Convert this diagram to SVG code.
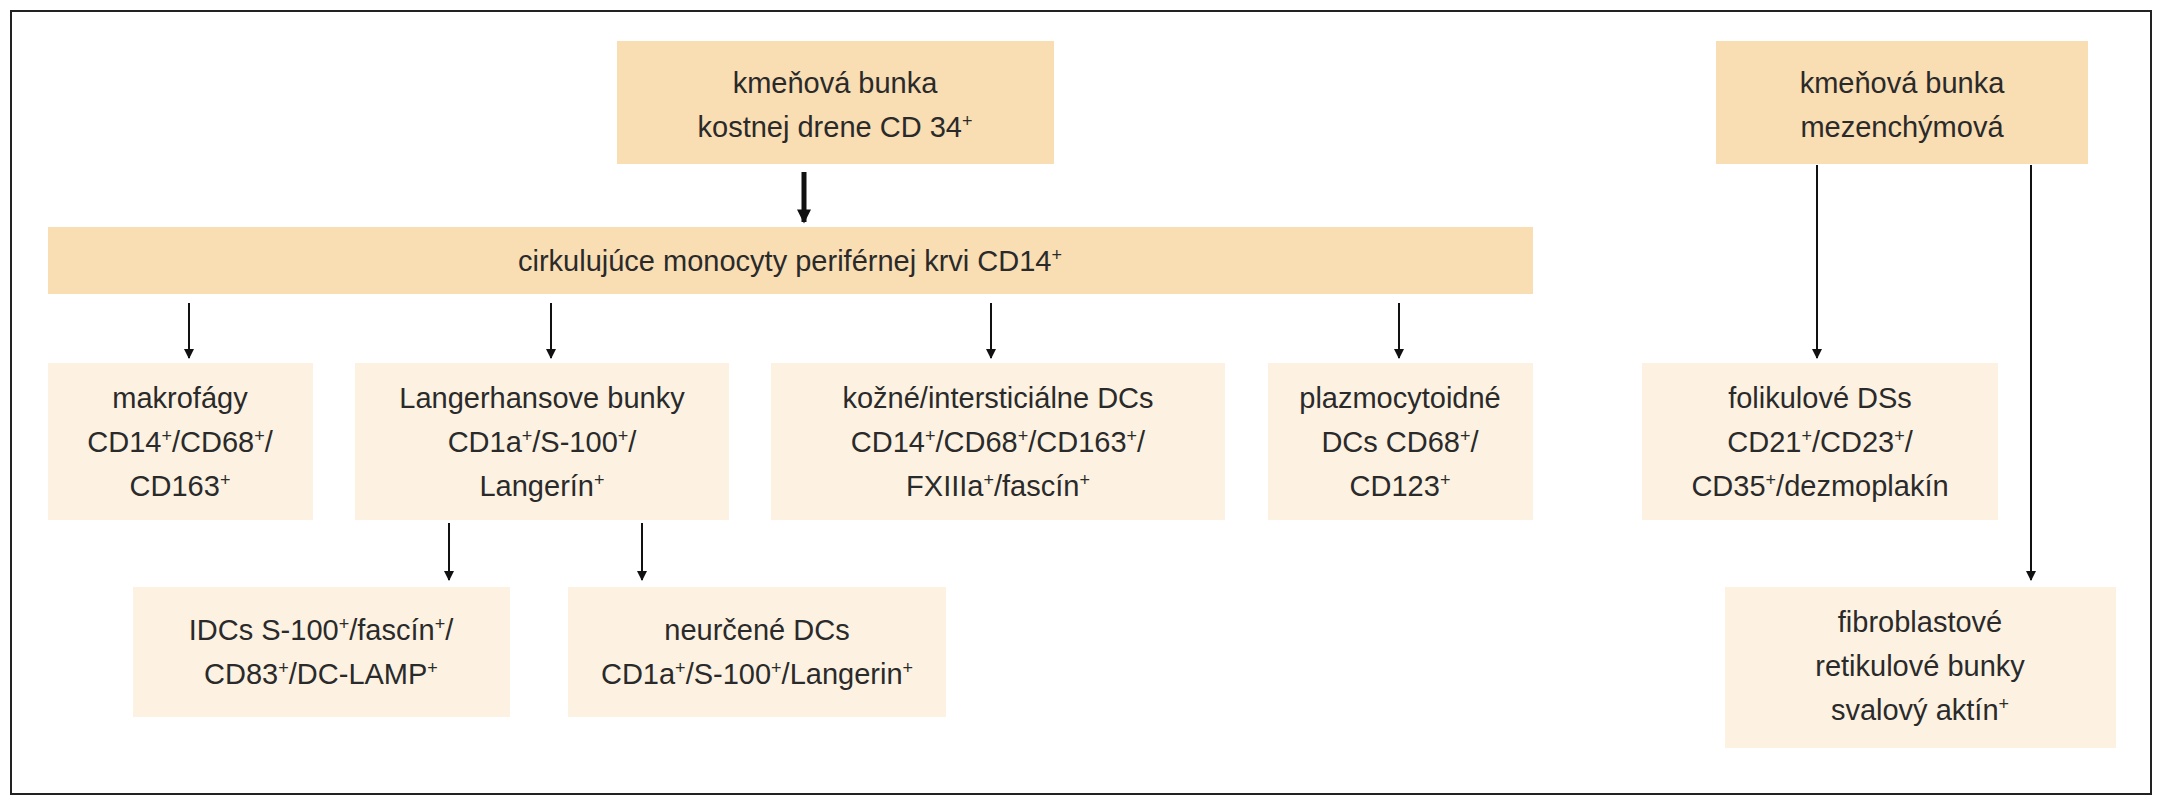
<svg xmlns="http://www.w3.org/2000/svg" width="2165" height="800" viewBox="0 0 2165 800">
<style>
.t{font-family:"Liberation Sans",Arial,sans-serif;font-size:29px;fill:#2a2a2a;text-anchor:middle}
.s{font-size:18px;baseline-shift:super}
.a{fill:#f9ddb3}.b{fill:#fdf2e2}
.c{stroke:#111;stroke-width:2;fill:none}
</style>
<defs>
<marker id="m" viewBox="0 0 10 10" refX="9" refY="5" markerWidth="10" markerHeight="18" markerUnits="userSpaceOnUse" orient="auto"><path d="M0,0L10,5L0,10z" fill="#111"/></marker>
<marker id="mb" viewBox="0 0 10 10" refX="9" refY="5" markerWidth="16" markerHeight="14" markerUnits="userSpaceOnUse" orient="auto"><path d="M0,0L10,5L0,10z" fill="#111"/></marker>
</defs>
<rect width="2165" height="800" fill="#fff"/>
<rect x="11" y="11" width="2140" height="783" fill="none" stroke="#222" stroke-width="2"/>
<g id="n1"><rect class="a" x="617" y="41" width="437" height="123"/><text class="t" x="835" y="93">kmeňová bunka</text><text class="t" x="835" y="137">kostnej drene CD 34<tspan class="s">+</tspan></text></g>
<g id="n2"><rect class="a" x="1716" y="41" width="372" height="123"/><text class="t" x="1902" y="93">kmeňová bunka</text><text class="t" x="1902" y="137">mezenchýmová</text></g>
<g id="n3"><rect class="a" x="48" y="227" width="1485" height="67"/><text class="t" x="790" y="271">cirkulujúce monocyty periférnej krvi CD14<tspan class="s">+</tspan></text></g>
<g id="n4"><rect class="b" x="48" y="363" width="265" height="157"/><text class="t" x="180" y="408">makrofágy</text><text class="t" x="180" y="452">CD14<tspan class="s">+</tspan>/CD68<tspan class="s">+</tspan>/</text><text class="t" x="180" y="496">CD163<tspan class="s">+</tspan></text></g>
<g id="n5"><rect class="b" x="355" y="363" width="374" height="157"/><text class="t" x="542" y="408">Langerhansove bunky</text><text class="t" x="542" y="452">CD1a<tspan class="s">+</tspan>/S-100<tspan class="s">+</tspan>/</text><text class="t" x="542" y="496">Langerín<tspan class="s">+</tspan></text></g>
<g id="n6"><rect class="b" x="771" y="363" width="454" height="157"/><text class="t" x="998" y="408">kožné/intersticiálne DCs</text><text class="t" x="998" y="452">CD14<tspan class="s">+</tspan>/CD68<tspan class="s">+</tspan>/CD163<tspan class="s">+</tspan>/</text><text class="t" x="998" y="496">FXIIIa<tspan class="s">+</tspan>/fascín<tspan class="s">+</tspan></text></g>
<g id="n7"><rect class="b" x="1268" y="363" width="265" height="157"/><text class="t" x="1400" y="408">plazmocytoidné</text><text class="t" x="1400" y="452">DCs CD68<tspan class="s">+</tspan>/</text><text class="t" x="1400" y="496">CD123<tspan class="s">+</tspan></text></g>
<g id="n8"><rect class="b" x="1642" y="363" width="356" height="157"/><text class="t" x="1820" y="408">folikulové DSs</text><text class="t" x="1820" y="452">CD21<tspan class="s">+</tspan>/CD23<tspan class="s">+</tspan>/</text><text class="t" x="1820" y="496">CD35<tspan class="s">+</tspan>/dezmoplakín</text></g>
<g id="n9"><rect class="b" x="133" y="587" width="377" height="130"/><text class="t" x="321" y="640">IDCs S-100<tspan class="s">+</tspan>/fascín<tspan class="s">+</tspan>/</text><text class="t" x="321" y="684">CD83<tspan class="s">+</tspan>/DC-LAMP<tspan class="s">+</tspan></text></g>
<g id="n10"><rect class="b" x="568" y="587" width="378" height="130"/><text class="t" x="757" y="640">neurčené DCs</text><text class="t" x="757" y="684">CD1a<tspan class="s">+</tspan>/S-100<tspan class="s">+</tspan>/Langerin<tspan class="s">+</tspan></text></g>
<g id="n11"><rect class="b" x="1725" y="587" width="391" height="161"/><text class="t" x="1920" y="632">fibroblastové</text><text class="t" x="1920" y="676">retikulové bunky</text><text class="t" x="1920" y="720">svalový aktín<tspan class="s">+</tspan></text></g>
<g id="connectors" class="c">
<line x1="804" y1="172" x2="804" y2="222" stroke-width="5" marker-end="url(#mb)"/>
<line x1="189" y1="303" x2="189" y2="358" marker-end="url(#m)"/>
<line x1="551" y1="303" x2="551" y2="358" marker-end="url(#m)"/>
<line x1="991" y1="303" x2="991" y2="358" marker-end="url(#m)"/>
<line x1="1399" y1="303" x2="1399" y2="358" marker-end="url(#m)"/>
<line x1="1817" y1="165" x2="1817" y2="358" marker-end="url(#m)"/>
<line x1="2031" y1="165" x2="2031" y2="580" marker-end="url(#m)"/>
<line x1="449" y1="523" x2="449" y2="580" marker-end="url(#m)"/>
<line x1="642" y1="523" x2="642" y2="580" marker-end="url(#m)"/>
</g>
</svg>
